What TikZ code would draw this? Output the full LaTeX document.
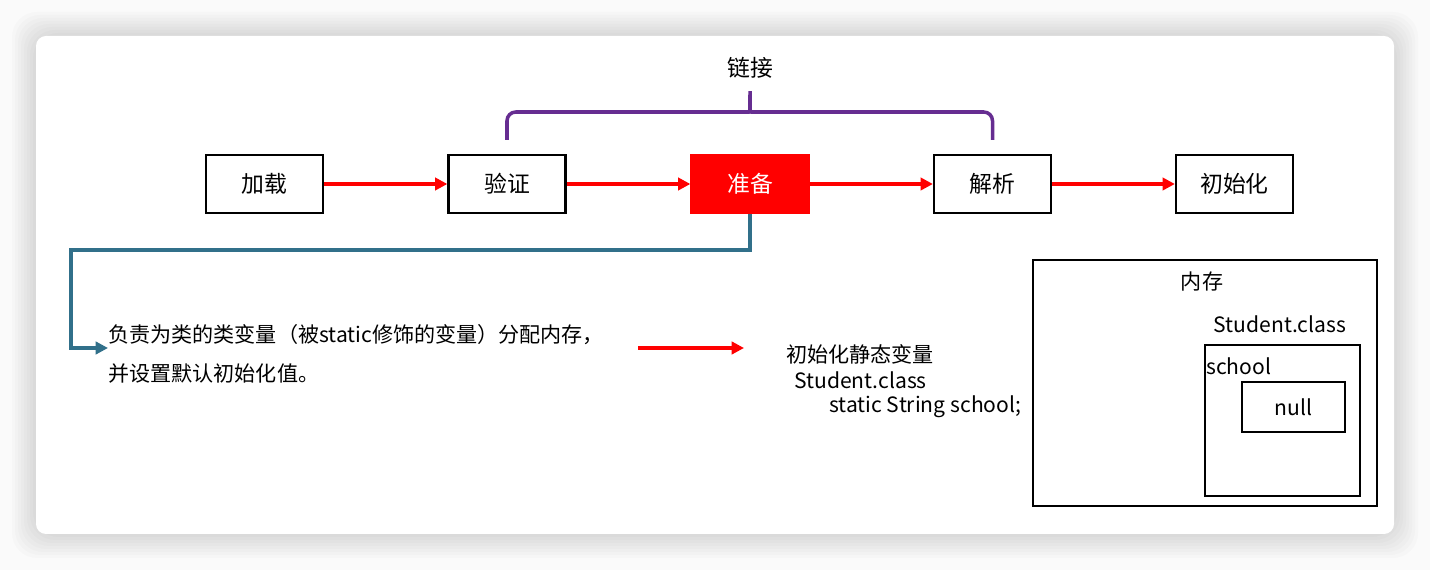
\documentclass[tikz,border=0pt]{standalone}
\usepackage{fontspec}
\setmainfont{Noto Sans CJK SC}
\usetikzlibrary{positioning,arrows.meta}
\definecolor{linkpurple}{RGB}{102,45,145}
\definecolor{pathteal}{RGB}{49,112,138}
\begin{document}
\begin{tikzpicture}[x=0.02cm, y=-0.02cm, >={Triangle[length=7pt,width=7pt]},
    every node/.style={inner sep=0pt, font=\fontsize{12}{22}\selectfont},
    stage/.style={draw=black, line width=1.3pt, minimum width=2.34cm, minimum height=1.16cm, font=\fontsize{13}{15}\selectfont},
    flow/.style={->, red, line width=2pt},
    frame/.style={draw=black, line width=1.3pt}]
    % 1. 背景与卡片
    \fill[gray!4] (0,0) rectangle (1430,570);
    \useasboundingbox (0,0) rectangle (1430,570);
    \foreach \s in {24,21,...,3}
        \fill[black, opacity=0.015, rounded corners=0.5cm] (36-\s,36-\s) rectangle (1394+\s,534+\s);
    \fill[white, rounded corners=0.2cm] (36,36) rectangle (1394,534);

    % 2. 类加载阶段
    \node[stage] (load) at (264.5,184) {加载};
    \node[stage] (verify) at (507,184) {验证};
    \node[stage, fill=red, draw=red, text=white] (prep) at (750,184) {准备};
    \node[stage] (resolve) at (992.5,184) {解析};
    \node[stage] (init) at (1234.5,184) {初始化};
    \draw[flow] (load) -- (verify);
    \draw[flow] (verify) -- (prep);
    \draw[flow] (prep) -- (resolve);
    \draw[flow] (resolve) -- (init);

    % 3. 链接括号
    \node[font=\fontsize{13}{15}\selectfont] (linktext) at (750,68) {链接};
    \draw[linkpurple, line width=2pt, rounded corners=5pt]
        ([yshift=0.28cm]verify.north) -- (507,112) -- (740,112)
        to[out=0,in=-90] (750,86) to[out=-90,in=180] (760,112)
        -- (992.5,112) -- ([yshift=0.28cm]resolve.north);

    % 4. 准备阶段说明
    \node[anchor=west, align=left] (desc) at (108,354)
        {负责为类的类变量（被static修饰的变量）分配内存，\\并设置默认初始化值。};
    \coordinate (turn) at (71,250);
    \draw[pathteal, line width=2pt, ->] (prep.south) |- (turn) |- ([yshift=0.12cm]desc.west);
    \coordinate (ra) at (638,348);
    \coordinate (rb) at (744,348);
    \draw[flow] (ra) -- (rb);

    \node[anchor=west] (stitle) at (786,354) {初始化静态变量};
    \node[anchor=west] (scls) at (794,380) {Student.class};
    \node[anchor=west] (sfield) at (829,407) {static String school;};

    % 5. 内存示意
    \node[frame, minimum width=6.88cm, minimum height=4.92cm] (mem) at (1205,383) {};
    \node (memtitle) at (1202,282) {内存};
    \node (clsname) at (1280,324) {Student.class};
    \node[frame, minimum width=3.1cm, minimum height=3.02cm] (clsbox) at (1282.5,420.5) {};
    \node[anchor=west] (field) at (1206,366) {school};
    \node[frame, minimum width=2.06cm, minimum height=1cm] (nullbox) at (1293.5,407) {null};
\end{tikzpicture}
\end{document}
